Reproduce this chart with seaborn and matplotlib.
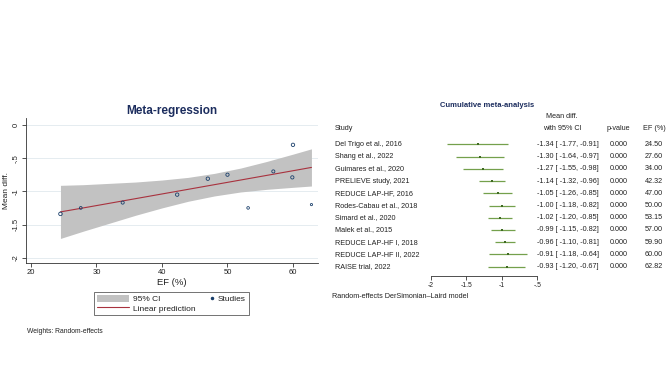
import numpy as np
import seaborn as sns
import matplotlib.pyplot as plt
from matplotlib.lines import Line2D
from matplotlib.patches import Patch
from matplotlib.legend_handler import HandlerLine2D
from matplotlib.transforms import blended_transform_factory

sns.set_style("white")
plt.rcParams['font.family'] = ['Liberation Sans', 'DejaVu Sans']

# ---- data ----
studies = ["Del Trigo et al., 2016", "Shang et al., 2022", "Guimares et al., 2020",
           "PRELIEVE study, 2021", "REDUCE LAP-HF, 2016", "Rodes-Cabau et al., 2018",
           "Simard et al., 2020", "Malek et al., 2015", "REDUCE LAP-HF I, 2018",
           "REDUCE LAP-HF II, 2022", "RAISE trial, 2022"]
ef = [24.50, 27.60, 34.00, 42.32, 47.00, 50.00, 53.15, 57.00, 59.90, 60.00, 62.82]
cum_md = [-1.34, -1.30, -1.27, -1.14, -1.05, -1.00, -1.02, -0.99, -0.96, -0.91, -0.93]
cum_lo = [-1.77, -1.64, -1.55, -1.32, -1.26, -1.18, -1.20, -1.15, -1.10, -1.18, -1.20]
cum_hi = [-0.91, -0.97, -0.98, -0.96, -0.85, -0.82, -0.85, -0.82, -0.81, -0.64, -0.67]
pvals = ["0.000"] * 11

# single-study effects (meta-regression scatter) and relative weights
study_md = [-1.34, -1.25, -1.17, -1.05, -0.81, -0.75, -1.25, -0.70, -0.79, -0.30, -1.20]
study_wt = [14, 9, 11, 13, 13, 12, 8, 11, 12, 13, 6]

# fitted line and 95% CI band
fit_ef = [24.5, 28, 32, 36, 40, 44, 48, 52, 56, 60, 62.82]
fit_md = [-1.31, -1.25, -1.18, -1.11, -1.04, -0.97, -0.90, -0.83, -0.76, -0.69, -0.64]
ci_lo = [-1.71, -1.60, -1.48, -1.36, -1.25, -1.15, -1.07, -1.01, -0.97, -0.94, -0.92]
ci_hi = [-0.91, -0.90, -0.88, -0.86, -0.83, -0.79, -0.73, -0.65, -0.55, -0.44, -0.36]

W, H = 668, 386
navy = "#1a3f6b"
title_col = "#1c2d5e"
green = "#74a04c"
dkgreen = "#3f6a22"
txt = "#222222"

def fx(px):
    return px / W

def fy(py):
    return 1 - py / H

fig = plt.figure(figsize=(W / 100, H / 100), dpi=100)

# ---------------- meta-regression ----------------
ax = fig.add_axes([fx(26), fy(263), fx(318 - 26), (263 - 118.3) / H])
for v in [0, -0.5, -1, -1.5, -2]:
    ax.axhline(v, color="#e1e9ee", lw=0.6, zorder=0)
ax.fill_between(fit_ef, ci_lo, ci_hi, color="#c2c2c2", lw=0, zorder=1)
sns.lineplot(x=fit_ef, y=fit_md, color="#a8323e", lw=0.8, ax=ax, zorder=2)
sns.scatterplot(x=ef, y=study_md, size=study_wt, sizes=(2.5, 6.5), facecolors="none",
                edgecolor=navy, linewidth=0.6, legend=False, ax=ax, zorder=3)
ax.set_xlim(19.24, 63.82)
ax.set_ylim(-2.08, 0.1)
ax.set_xticks([20, 30, 40, 50, 60])
ax.set_yticks([0, -0.5, -1, -1.5, -2], ["0", "-.5", "-1", "-1.5", "-2"])
plt.setp(ax.get_yticklabels(), rotation=90, va="center")
ax.tick_params(axis="both", length=3, width=0.6, labelsize=5.5, pad=1.5,
               color="#333333", labelcolor=txt, direction="out")
ax.tick_params(axis="x", bottom=True)
ax.tick_params(axis="y", left=True)
for s in ["top", "right"]:
    ax.spines[s].set_visible(False)
for s in ["left", "bottom"]:
    ax.spines[s].set_color("#333333")
    ax.spines[s].set_linewidth(0.6)
ax.set_xlabel("EF (%)", fontsize=6.8, color=txt, labelpad=1)
ax.set_ylabel("Mean diff.", fontsize=6, color=txt, labelpad=2)

fig.text(fx(171.5), fy(111), "Meta-regression", ha="center", va="center",
         fontsize=8.5, fontweight="bold", color=title_col)

handles = [Patch(facecolor="#c2c2c2", edgecolor="none"),
           Line2D([], [], color="#a8323e", lw=0.8),
           Line2D([], [], marker="o", ls="", markersize=1.5, color=navy)]
labels = ["95% CI", "Linear prediction", "Studies"]
leg = fig.legend(handles, labels, ncol=2, loc="upper left",
                 bbox_to_anchor=(fx(94), fy(291.7)), frameon=True, fancybox=False,
                 fontsize=6, handlelength=3.8, handleheight=0.9, handletextpad=0.5,
                 columnspacing=-1.6, labelspacing=0.15, borderpad=0.35,
                 borderaxespad=0,
                 handler_map={handles[2]: HandlerLine2D(numpoints=1, xpad=3.4)})
leg.get_frame().set_edgecolor("#333333")
leg.get_frame().set_linewidth(0.6)
for t in leg.get_texts():
    t.set_color(txt)

fig.text(fx(27), fy(331.5), "Weights: Random-effects", ha="left", va="center",
         fontsize=4.9, color=txt)

# ---------------- cumulative meta-analysis ----------------
ax2 = fig.add_axes([fx(330), fy(275.7), fx(338), (275.7 - 135) / H])
rows = np.arange(len(studies))
ax2.hlines(rows, cum_lo, cum_hi, color=green, lw=0.9)
sns.scatterplot(x=cum_md, y=rows, marker="s", s=4.5, color=dkgreen, linewidth=0,
                ax=ax2, zorder=3)
ax2.set_xlim(-2 - 100.7 / 71.07, -2 + 237.3 / 71.07)
ax2.set_ylim(10.735, -0.76)
ax2.set_xticks([-2, -1.5, -1, -0.5], ["-2", "-1.5", "-1", "-.5"])
ax2.set_yticks([])
for s in ["top", "right", "left"]:
    ax2.spines[s].set_visible(False)
ax2.spines["bottom"].set_bounds(-2, -0.5)
ax2.spines["bottom"].set_color("#333333")
ax2.spines["bottom"].set_linewidth(0.6)
ax2.tick_params(axis="x", bottom=True, length=3, width=0.6, labelsize=4.9, pad=1.2,
                color="#333333", labelcolor=txt, direction="out")

tr = blended_transform_factory(fig.transFigure, ax2.transData)
for i, name in enumerate(studies):
    ax2.text(fx(335), i, name, transform=tr, fontsize=5.2, va="center", color=txt)
    ax2.text(fx(537), i, f"{cum_md[i]:.2f} [ {cum_lo[i]:.2f}, {cum_hi[i]:.2f}]",
             transform=tr, fontsize=5.2, va="center", color=txt)
    ax2.text(fx(610), i, pvals[i], transform=tr, fontsize=5.2, va="center", color=txt)
    ax2.text(fx(645), i, f"{ef[i]:.2f}", transform=tr, fontsize=5.2, va="center",
             color=txt)

fig.text(fx(487), fy(105), "Cumulative meta-analysis", ha="center", va="center",
         fontsize=5.5, fontweight="bold", color=title_col)
hdr = dict(fontsize=5.2, va="center", color=txt)
fig.text(fx(335), fy(128), "Study", ha="left", **hdr)
fig.text(fx(562), fy(116), "Mean diff.", ha="center", **hdr)
fig.text(fx(562), fy(128), "with 95% CI", ha="center", **hdr)
fig.text(fx(607), fy(128), "p-value", ha="left", **hdr)
fig.text(fx(643), fy(128), "EF (%)", ha="left", **hdr)
fig.text(fx(332), fy(296), "Random-effects DerSimonian\u2013Laird model", ha="left",
         **hdr)

fig.savefig("out.png", dpi=100, facecolor="white")
